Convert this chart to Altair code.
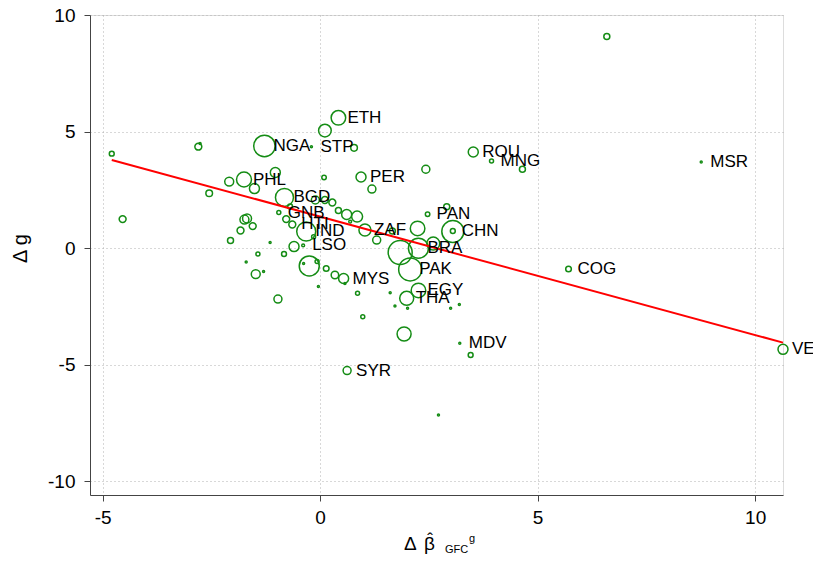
import altair as alt
import pandas as pd

labels = ["", "", "", "", "", "", "PHL", "", "", "NGA",
          "STP", "ETH", "", "", "PER", "", "", "ROU", "MNG", "",
          "", "PAN", "CHN", "", "BGD", "", "", "", "", "",
          "GNB", "", "HTI", "IND", "", "", "", "", "ZAF", "",
          "", "", "", "BRA", "", "PAK", "", "", "", "",
          "", "", "", "", "", "", "LSO", "", "", "",
          "", "", "", "MYS", "", "", "", "", "", "",
          "", "", "", "", "EGY", "THA", "", "", "", "MDV",
          "", "SYR", "", "", "MSR", "COG", "VEN"]
d_beta = [-4.79, -2.80, -2.76, -2.55, -4.54, -2.09, -1.75, -1.03, -1.51, -1.28,
          -0.20, 0.42, 0.11, 0.78, 0.94, 1.19, 2.43, 3.52, 3.94, 4.65,
          2.91, 2.47, 3.05, 3.05, -0.82, 0.09, -0.11, 0.11, 0.28, -0.69,
          -0.95, -0.78, -0.64, -0.32, 0.42, 0.61, 0.85, 0.69, 1.03, 1.30,
          1.66, 2.24, 1.84, 2.26, 2.60, 2.07, -1.74, -1.68, -1.83, -1.55,
          -2.06, -1.15, -1.43, -1.70, -0.83, -0.60, -0.39, -0.15, -0.25, -0.38,
          -0.07, 0.14, 0.34, 0.54, 0.57, -0.04, -1.48, -1.30, -0.97, 0.86,
          0.98, 1.61, 1.72, 1.93, 2.26, 1.99, 2.01, 3.00, 3.20, 3.21,
          3.46, 0.62, 2.72, 6.59, 8.76, 5.71, 10.64]
d_g = [4.05, 4.35, 4.49, 2.35, 1.24, 2.85, 2.94, 3.24, 2.55, 4.38,
       4.35, 5.59, 5.04, 4.30, 3.05, 2.53, 3.38, 4.12, 3.73, 3.38,
       1.77, 1.45, 0.71, 0.73, 2.17, 3.03, 2.06, 2.06, 1.95, 1.78,
       1.52, 1.24, 1.01, 0.71, 1.61, 1.44, 1.35, 1.13, 0.77, 0.34,
       0.73, 0.84, -0.19, -0.01, 0.19, -0.92, 1.22, 1.27, 0.75, 0.94,
       0.32, 0.24, -0.26, -0.60, -0.26, 0.06, 0.11, 0.48, -0.77, -0.67,
       -0.58, -0.88, -1.16, -1.31, -1.52, -1.65, -1.12, -1.01, -2.19, -1.94,
       -2.95, -1.92, -2.49, -3.69, -1.82, -2.16, -2.59, -2.59, -2.42, -4.09,
       -4.59, -5.26, -7.17, 9.08, 3.69, -0.90, -4.35]
weight = [6, 12, 1, 11, 12, 20, 56, 25, 25, 115,
          1, 53, 40, 11, 25, 16, 16, 25, 4, 9,
          9, 5, 121, 6, 81, 5, 16, 12, 12, 6,
          4, 12, 12, 90, 9, 25, 30, 2, 36, 16,
          9, 53, 144, 100, 42, 132, 20, 20, 12, 12,
          9, 1, 4, 1, 6, 25, 2, 4, 100, 1,
          4, 8, 14, 25, 1, 1, 20, 1, 16, 4,
          4, 1, 1, 49, 53, 49, 1, 1, 1, 1,
          6, 16, 1, 9, 1, 8, 25]

fit_x = [-4.79, 10.64]
fit_y = [3.78, -4.06]

df = pd.DataFrame({"label": labels, "dbeta": d_beta, "dg": d_g, "w": weight})
fit = pd.DataFrame({"dbeta": fit_x, "dg": fit_y})

FONT = "Liberation Sans"
GREEN = "#148c14"

xscale = alt.Scale(domain=[-5.29, 10.64], nice=False, zero=False)
yscale = alt.Scale(domain=[-10.6, 10], nice=False, zero=False)

xaxis = alt.Axis(values=[-5, 0, 5, 10], title=None, labelExpr="datum.value + ''",
                 grid=True, gridDash=[1, 3], gridColor="#b0b0b0",
                 domainColor="#444", tickColor="#444", tickSize=6,
                 labelFontSize=19, labelFont=FONT, labelColor="black", labelPadding=7)
yaxis = alt.Axis(values=[-10, -5, 0, 5, 10], title="Δ g", labelExpr="datum.value + ''",
                 grid=True, gridDash=[1, 3], gridColor="#b0b0b0",
                 domainColor="#444", tickColor="#444", tickSize=6,
                 labelFontSize=19, labelFont=FONT, labelColor="black", labelPadding=9,
                 titleFont=FONT, titleFontSize=20, titleFontWeight="normal",
                 titleColor="black", titleAngle=270, titleX=-70, titleY=233,
                 titleAlign="center", titleBaseline="middle")

points = alt.Chart(df).mark_point(shape="circle", filled=False, strokeWidth=1.5,
                                  color=GREEN, opacity=1).encode(
    x=alt.X("dbeta:Q", scale=xscale, axis=xaxis),
    y=alt.Y("dg:Q", scale=yscale, axis=yaxis),
    size=alt.Size("w:Q", scale=alt.Scale(type="linear", domain=[0, 144], range=[0, 576]),
                  legend=None),
)

line = alt.Chart(fit).mark_line(color="#ff0000", strokeWidth=2).encode(
    x=alt.X("dbeta:Q", scale=xscale),
    y=alt.Y("dg:Q", scale=yscale),
)

texts = alt.Chart(df).transform_filter("datum.label != ''").mark_text(
    align="left", baseline="middle", dx=9, fontSize=17, font=FONT, color="black"
).encode(
    x=alt.X("dbeta:Q", scale=xscale),
    y=alt.Y("dg:Q", scale=yscale),
    text="label:N",
)

one = pd.DataFrame({"k": [0]})


def title_piece(txt, x, y, size, align="left"):
    return alt.Chart(one).mark_text(align=align, baseline="alphabetic", fontSize=size,
                                    font=FONT, color="black").encode(
        x=alt.value(x), y=alt.value(y), text=alt.value(txt))


t_delta = title_piece("Δ", 314, 535, 19)
t_beta = title_piece("β", 334, 535, 19)
t_hat = title_piece("ˆ", 340, 530, 17, align="center")
t_sub = title_piece("GFC", 355, 538, 11)
t_sup = title_piece("g", 379, 527, 11)

chart = alt.layer(points, line, texts, t_delta, t_beta, t_hat, t_sub, t_sup).properties(
    width=693, height=480,
    autosize=alt.AutoSizeParams(type="none"),
    padding={"left": 82, "top": 7, "right": 30, "bottom": 59},
).configure_view(stroke=None).configure(background="white")

chart.save("out.html", embed_options={"renderer": "svg", "actions": False})
